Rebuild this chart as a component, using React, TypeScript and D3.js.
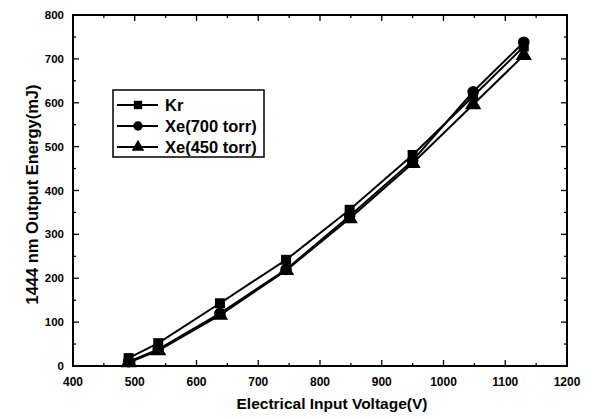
import * as React from 'react';
import * as d3 from 'd3';

const voltage = [490, 538, 638, 745, 848, 950, 1048, 1130];
const krEnergy = [18, 52, 143, 242, 356, 481, 615, 728];
const xe700Energy = [10, 38, 120, 220, 342, 468, 625, 738];
const xe450Energy = [8, 35, 116, 218, 336, 462, 596, 708];
const seriesNames = ['Kr', 'Xe(700 torr)', 'Xe(450 torr)'];
const seriesShapes = [d3.symbolSquare, d3.symbolCircle, d3.symbolTriangle];
const xTicks = [400, 500, 600, 700, 800, 900, 1000, 1100, 1200];
const yTicks = [0, 100, 200, 300, 400, 500, 600, 700, 800];

const W = 593;
const H = 419;
const margin = { top: 15, right: 26, bottom: 53, left: 73 };
const font = '"Liberation Sans", Arial, sans-serif';

export default function App() {
  const ref = React.useRef<SVGSVGElement>(null);

  React.useEffect(() => {
    const svg = d3.select(ref.current);
    svg.selectAll('*').remove();
    const width = W - margin.left - margin.right;
    const height = H - margin.top - margin.bottom;

    const x = d3.scaleLinear().domain([400, 1200]).range([0, width]);
    const y = d3.scaleLinear().domain([0, 800]).range([height, 0]);

    const g = svg.append('g').attr('transform', `translate(${margin.left},${margin.top})`);

    // minor ticks every 50, inward on all four sides
    const xMinor = d3.range(450, 1200, 100);
    const yMinor = d3.range(50, 800, 100);
    const tickG = g.append('g').attr('stroke', '#000').attr('stroke-width', 1.3);
    xTicks.forEach((v) => {
      tickG.append('line').attr('x1', x(v)).attr('x2', x(v)).attr('y1', height).attr('y2', height - 6);
      tickG.append('line').attr('x1', x(v)).attr('x2', x(v)).attr('y1', 0).attr('y2', 6);
    });
    xMinor.forEach((v) => {
      tickG.append('line').attr('x1', x(v)).attr('x2', x(v)).attr('y1', height).attr('y2', height - 3);
      tickG.append('line').attr('x1', x(v)).attr('x2', x(v)).attr('y1', 0).attr('y2', 3);
    });
    yTicks.forEach((v) => {
      tickG.append('line').attr('x1', 0).attr('x2', 6).attr('y1', y(v)).attr('y2', y(v));
      tickG.append('line').attr('x1', width).attr('x2', width - 6).attr('y1', y(v)).attr('y2', y(v));
    });
    yMinor.forEach((v) => {
      tickG.append('line').attr('x1', 0).attr('x2', 3).attr('y1', y(v)).attr('y2', y(v));
      tickG.append('line').attr('x1', width).attr('x2', width - 3).attr('y1', y(v)).attr('y2', y(v));
    });

    g.append('rect')
      .attr('width', width)
      .attr('height', height)
      .attr('fill', 'none')
      .attr('stroke', '#000')
      .attr('stroke-width', 2);

    g.selectAll('.xlab')
      .data(xTicks)
      .enter()
      .append('text')
      .attr('x', (d) => x(d))
      .attr('y', height + 20)
      .attr('text-anchor', 'middle')
      .attr('font-family', font)
      .attr('font-weight', 'bold')
      .attr('font-size', '12px')
      .text((d) => d);

    g.selectAll('.ylab')
      .data(yTicks)
      .enter()
      .append('text')
      .attr('x', -9)
      .attr('y', (d) => y(d) + 4)
      .attr('text-anchor', 'end')
      .attr('font-family', font)
      .attr('font-weight', 'bold')
      .attr('font-size', '11.5px')
      .text((d) => d);

    g.append('text')
      .attr('x', width / 2 + 12)
      .attr('y', height + 43)
      .attr('text-anchor', 'middle')
      .attr('font-family', font)
      .attr('font-weight', 'bold')
      .attr('font-size', '15.5px')
      .text('Electrical Input Voltage(V)');

    g.append('text')
      .attr('transform', 'rotate(-90)')
      .attr('x', -height / 2 - 4)
      .attr('y', -margin.left + 38)
      .attr('text-anchor', 'middle')
      .attr('font-family', font)
      .attr('font-weight', 'bold')
      .attr('font-size', '16.5px')
      .text('1444 nm Output Energy(mJ)');

    const allSeries = [krEnergy, xe700Energy, xe450Energy];
    const line = d3.line<number>().x((d, i) => x(voltage[i])).y((d) => y(d));
    const sizes = [100, 105, 115];

    allSeries.forEach((vals, s) => {
      g.append('path')
        .attr('d', line(vals))
        .attr('fill', 'none')
        .attr('stroke', '#000')
        .attr('stroke-width', 2);
      g.selectAll(`.pt${s}`)
        .data(vals)
        .enter()
        .append('path')
        .attr('d', d3.symbol().type(seriesShapes[s]).size(sizes[s])())
        .attr('transform', (d, i) => `translate(${x(voltage[i])},${y(d)})`)
        .attr('fill', '#000');
    });

    // legend
    const lg = svg.append('g').attr('transform', 'translate(113,90)');
    lg.append('rect')
      .attr('width', 151)
      .attr('height', 67)
      .attr('fill', '#fff')
      .attr('stroke', '#000')
      .attr('stroke-width', 1.5);
    seriesNames.forEach((name, i) => {
      const yy = 15 + i * 21;
      lg.append('line')
        .attr('x1', 4)
        .attr('x2', 45)
        .attr('y1', yy)
        .attr('y2', yy)
        .attr('stroke', '#000')
        .attr('stroke-width', 2);
      lg.append('path')
        .attr('d', d3.symbol().type(seriesShapes[i]).size(70)())
        .attr('transform', `translate(25,${yy})`)
        .attr('fill', '#000');
      lg.append('text')
        .attr('x', 52)
        .attr('y', yy + 6)
        .attr('font-family', font)
        .attr('font-weight', 'bold')
        .attr('font-size', '16.5px')
        .text(name);
    });
  }, []);

  return (
    <svg
      ref={ref}
      width={W}
      height={H}
      style={{ position: 'absolute', left: 0, top: 0, background: '#fff' }}
    />
  );
}
